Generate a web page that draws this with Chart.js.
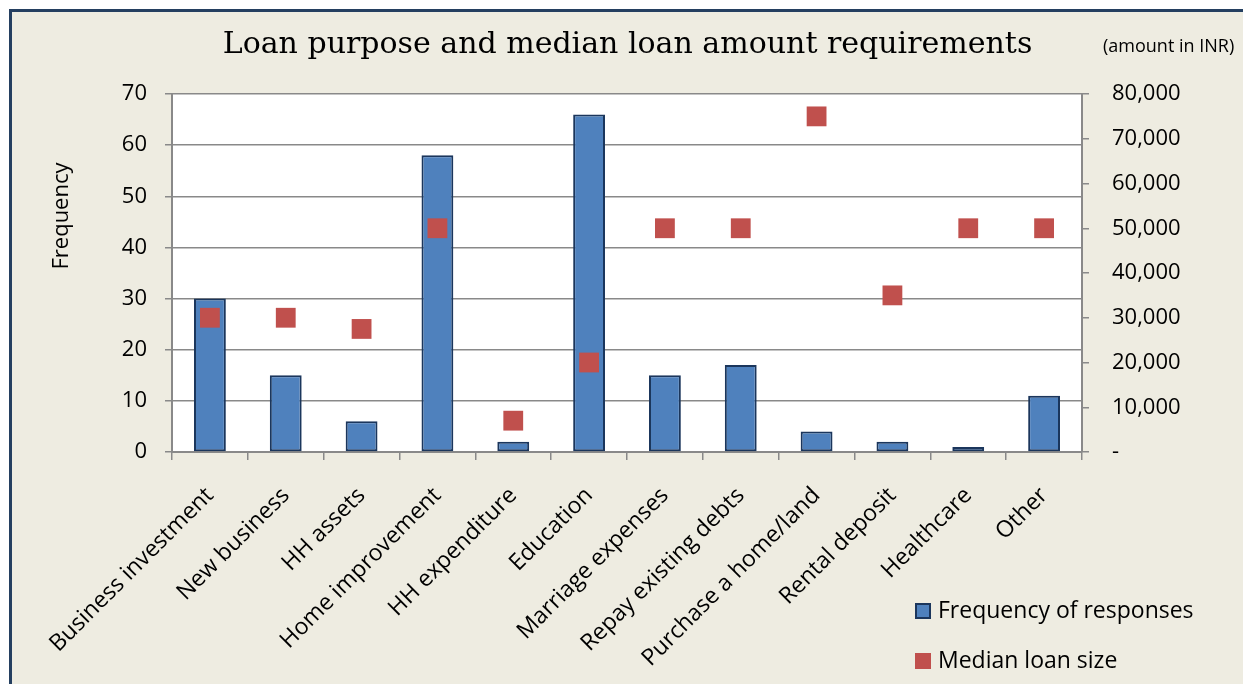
<!DOCTYPE html>
<html>
<head>
<meta charset="utf-8">
<title>Loan purpose and median loan amount requirements</title>
<script src="https://cdn.jsdelivr.net/npm/chart.js@4.4.0/dist/chart.umd.min.js"></script>
<style>
html, body { margin: 0; padding: 0; background: #fff; overflow: hidden; }
#frame {
    position: absolute; left: 9px; top: 9px;
    width: 1231px; height: 672px;
    border-left: 3px solid #243F60; border-top: 3px solid #243F60;
    background: #EEECE1;
}
canvas { display: block; }
</style>
</head>
<body>
<div id="frame"><canvas id="loan-chart" width="1231" height="672"></canvas></div>
<script>
// chart values
var purposes = ['Business investment', 'New business', 'HH assets', 'Home improvement',
    'HH expenditure', 'Education', 'Marriage expenses', 'Repay existing debts',
    'Purchase a home/land', 'Rental deposit', 'Healthcare', 'Other'];
var frequency = [30, 15, 6, 58, 2, 66, 15, 17, 4, 2, 1, 11];
var medianLoan = [30000, 30000, 27500, 50000, 7000, 20000, 50000, 50000, 75000, 35000, 50000, 50000];
var seriesNames = ['Frequency of responses', 'Median loan size'];
var chartTitle = 'Loan purpose and median loan amount requirements';
var leftTitle = 'Frequency';
var unitNote = '(amount in INR)';

var gridGray = '#898989';
var ctx = document.getElementById('loan-chart');

Chart.defaults.font.family = "'Open Sans', sans-serif";
Chart.defaults.color = '#000';

// white plot area, left axis title, unit note and the legend
var extras = {
    id: 'extras',
    beforeDraw: function(chart){
        var a = chart.chartArea;
        var c = chart.ctx;
        c.save();
        c.fillStyle = '#fff';
        c.fillRect(a.left, a.top, a.right - a.left, a.bottom - a.top);
        c.restore();
    },
    afterDraw: function(chart){
        var c = chart.ctx;
        c.save();
        c.fillStyle = '#000';
        c.textBaseline = 'middle';

        c.font = "22px 'Open Sans'";
        c.textAlign = 'center';
        c.translate(50, 204);
        c.rotate(-Math.PI / 2);
        c.fillText(leftTitle, 0, 0);
        c.setTransform(1, 0, 0, 1, 0, 0);

        c.font = "18px 'Open Sans'";
        c.textAlign = 'left';
        c.fillText(unitNote, 1091, 35);

        c.font = "23px 'Open Sans'";
        var sets = chart.data.datasets;
        for (var i = 0; i < sets.length; i++){
            var y = 591 + i * 50;
            c.fillStyle = sets[i].backgroundColor;
            c.fillRect(903, y, 16, 16);
            if (sets[i].type === 'bar'){
                c.strokeStyle = sets[i].borderColor;
                c.lineWidth = 2;
                c.strokeRect(904, y + 1, 14, 14);
            }
            c.fillStyle = '#000';
            c.fillText(sets[i].label, 926, y + 8);
        }
        c.restore();
    }
};

var loanChart = new Chart(ctx, {
    data: {
        labels: purposes,
        datasets: [{
            type: 'bar',
            label: seriesNames[0],
            data: frequency,
            yAxisID: 'y',
            backgroundColor: '#4F81BD',
            borderColor: '#1B365C',
            borderWidth: 2,
            borderSkipped: false,
            categoryPercentage: 1,
            barPercentage: 0.42,
            order: 1
        }, {
            type: 'line',
            label: seriesNames[1],
            data: medianLoan,
            yAxisID: 'y1',
            showLine: false,
            pointStyle: 'rect',
            pointRadius: 14,
            pointHoverRadius: 14,
            backgroundColor: '#C0504D',
            borderColor: '#C0504D',
            borderWidth: 0,
            order: 0
        }]
    },
    options: {
        responsive: false,
        animation: false,
        layout: { padding: 0 },
        plugins: {
            legend: { display: false },
            tooltip: { enabled: false },
            title: {
                display: true,
                text: chartTitle,
                font: { family: "'DejaVu Serif', serif", size: 30, weight: 'normal' },
                color: '#000',
                padding: { top: 15, bottom: 31 }
            }
        },
        scales: {
            x: {
                offset: true,
                grid: { offset: true, drawOnChartArea: false, tickLength: 8, color: gridGray, lineWidth: 1.5 },
                border: { color: gridGray, width: 2 },
                ticks: {
                    autoSkip: false, maxRotation: 45, minRotation: 45,
                    font: { size: 23 }, padding: 22, labelOffset: 0
                },
                afterFit: function(scale){ scale.height = 232; }
            },
            y: {
                position: 'left',
                min: 0, max: 70,
                ticks: { stepSize: 10, font: { size: 22 }, padding: 18 },
                grid: { color: gridGray, lineWidth: 1.5, tickLength: 7 },
                border: { color: gridGray, width: 2 },
                afterFit: function(scale){ scale.width = 160; }
            },
            y1: {
                position: 'right',
                min: 0, max: 80000,
                ticks: {
                    stepSize: 10000, font: { size: 22 }, padding: 23,
                    callback: function(v){ return v === 0 ? '-' : v.toLocaleString('en-US'); }
                },
                grid: { drawOnChartArea: false, color: gridGray, lineWidth: 1.5, tickLength: 7 },
                border: { color: gridGray, width: 2 },
                afterFit: function(scale){ scale.width = 161; }
            }
        }
    },
    plugins: [extras]
});
</script>
</body>
</html>
